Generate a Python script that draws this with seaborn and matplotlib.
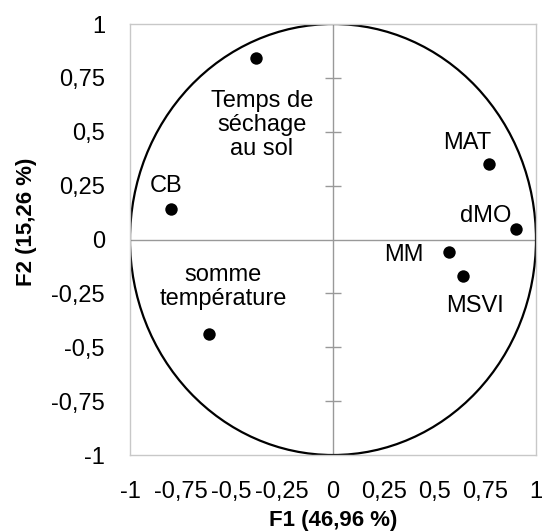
import matplotlib
matplotlib.use("Agg")
import pandas as pd
import matplotlib.pyplot as plt
import seaborn as sns
from matplotlib.patches import Ellipse
from matplotlib.ticker import FuncFormatter

# variable coordinates on the correlation circle (F1, F2)
variables = ["Temps de\nséchage\nau sol", "CB", "somme\ntempérature", "MAT", "dMO", "MM", "MSVI"]
f1 = [-0.38, -0.80, -0.61, 0.77, 0.90, 0.57, 0.64]
f2 = [0.84, 0.14, -0.44, 0.35, 0.05, -0.06, -0.17]

# where each label sits
label_x = [-0.35, -0.82, -0.54, 0.66, 0.75, 0.35, 0.70]
label_y = [0.53, 0.25, -0.22, 0.45, 0.11, -0.07, -0.31]

ticks = [-1, -0.75, -0.5, -0.25, 0, 0.25, 0.5, 0.75, 1]
x_title = "F1 (46,96 %)"
y_title = "F2 (15,26 %)"

df = pd.DataFrame({"F1": f1, "F2": f2, "var": variables})

sns.set_style("white")
plt.rcParams["font.family"] = ["Liberation Sans", "DejaVu Sans"]
plt.rcParams.update({"text.color": "black", "axes.labelcolor": "black",
                     "xtick.color": "black", "ytick.color": "black"})

fig = plt.figure(figsize=(5.43, 5.31), dpi=100)
ax = fig.add_axes([0.2394, 0.1431, 0.7477, 0.8117])

# axes through the origin
ax.axhline(0, color="#999999", lw=1, zorder=1)
ax.axvline(0, color="#999999", lw=1, zorder=1)
inner = [t for t in ticks if t not in (-1, 0, 1)]
ax.hlines(inner, -0.04, 0.04, color="#999999", lw=1, zorder=1)

# unit circle
ax.add_patch(Ellipse((0, 0), 2, 2, fill=False, edgecolor="black", lw=1.6, zorder=2))

sns.scatterplot(data=df, x="F1", y="F2", color="black", s=80, edgecolor="black",
                linewidth=0, ax=ax, zorder=3)

for lab, lx, ly in zip(variables, label_x, label_y):
    ax.text(lx, ly, lab, ha="center", va="center", fontsize=17, linespacing=1.12)

ax.set_xlim(-1, 1)
ax.set_ylim(-1, 1)
ax.set_xticks(ticks)
ax.set_yticks(ticks)
fmt = FuncFormatter(lambda v, p: f"{v:g}".replace(".", ","))
ax.xaxis.set_major_formatter(fmt)
ax.yaxis.set_major_formatter(fmt)
ax.tick_params(axis="x", length=0, pad=19, labelsize=17)
ax.tick_params(axis="y", length=0, pad=18, labelsize=17)

for sp in ax.spines.values():
    sp.set_color("#c8c8c8")
    sp.set_linewidth(1)

ax.set_xlabel(x_title, fontsize=16, fontweight="bold")
ax.set_ylabel(y_title, fontsize=16, fontweight="bold")
ax.xaxis.set_label_coords(0.5, -0.127)
ax.yaxis.set_label_coords(-0.229, 0.54)

plt.savefig("out.png", dpi=100)
